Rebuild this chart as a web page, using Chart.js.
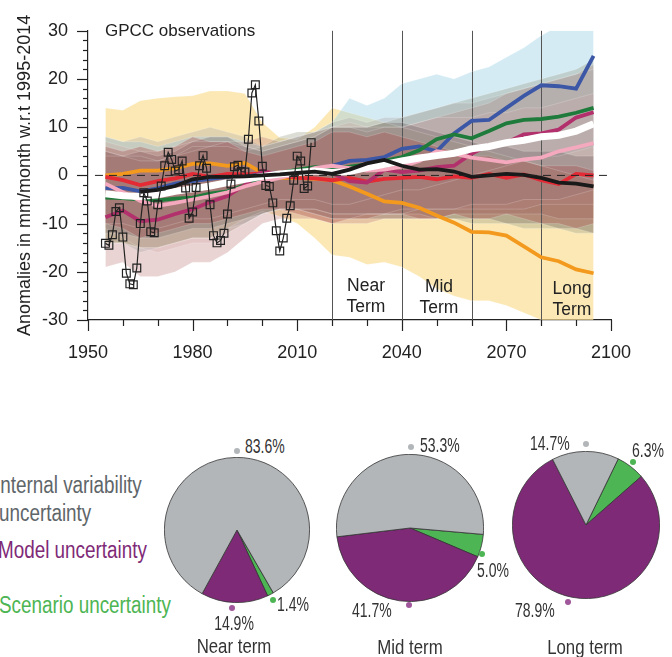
<!DOCTYPE html>
<html>
<head>
<meta charset="utf-8">
<script src="https://cdn.jsdelivr.net/npm/chart.js@4.4.1/dist/chart.umd.min.js"></script>
<style>
  body { margin: 0; background: #fff; }
  #page { position: relative; width: 672px; height: 657px; overflow: hidden; font-family: "Liberation Sans", Arial, sans-serif; color: #222; }
  #serie { position: absolute; left: 0; top: 0; }
  .pie { position: absolute; }
  .txt { position: absolute; white-space: nowrap; line-height: 1; }
  .narrow { transform: scaleX(0.82); transform-origin: left center; }
  .mid { transform-origin: center center; text-align: center; }
  .term { position: absolute; width: 80px; text-align: center; font-size: 17.5px; line-height: 20.5px; color: #222; }
  .pct { font-size: 20px; color: #333; transform: scaleX(0.7); }
  .name { font-size: 20.5px; color: #333; width: 120px; }
  .leg { font-size: 23px; }
  .dot { position: absolute; width: 6px; height: 6px; border-radius: 50%; }
</style>
</head>
<body>
<div id="page">
  <canvas id="serie" width="672" height="370"></canvas>

  <div class="txt" style="left:105px; top:22px; font-size:17px;">GPCC observations</div>
  <div class="term" style="left:326px; top:275px;">Near<br>Term</div>
  <div class="term" style="left:399px; top:276px;">Mid<br>Term</div>
  <div class="term" style="left:532px; top:278px;">Long<br>Term</div>

  <div class="txt narrow leg" style="left:-5px; top:474px; color:#5f666a;">Internal variability</div>
  <div class="txt narrow leg" style="left:-1px; top:502px; color:#5f666a;">uncertainty</div>
  <div class="txt narrow leg" style="left:-2px; top:539px; color:#7f2a77;">Model uncertainty</div>
  <div class="txt narrow leg" style="left:-1px; top:594px; color:#4db553;">Scenario uncertainty</div>

  <canvas class="pie" id="pieNear" width="146" height="146" style="left:164px; top:457px;"></canvas>
  <canvas class="pie" id="pieMid" width="148" height="148" style="left:336px; top:454px;"></canvas>
  <canvas class="pie" id="pieLong" width="148" height="148" style="left:512px; top:451px;"></canvas>

  <!-- Near term -->
  <span class="dot" style="left:234px; top:448px; background:#b2b6b8;"></span>
  <div class="txt narrow pct" style="left:245px; top:436px;">83.6%</div>
  <span class="dot" style="left:270px; top:597px; background:#4db553;"></span>
  <div class="txt narrow pct" style="left:277px; top:594px;">1.4%</div>
  <span class="dot" style="left:229px; top:605px; background:#a0569a;"></span>
  <div class="txt narrow pct mid" style="left:194px; top:613px; width:80px;">14.9%</div>
  <div class="txt narrow name mid" style="left:174px; top:636px;">Near term</div>

  <!-- Mid term -->
  <span class="dot" style="left:408px; top:444px; background:#b2b6b8;"></span>
  <div class="txt narrow pct" style="left:420px; top:435px;">53.3%</div>
  <span class="dot" style="left:479px; top:551px; background:#4db553;"></span>
  <div class="txt narrow pct" style="left:477px; top:560px;">5.0%</div>
  <span class="dot" style="left:406px; top:602px; background:#a0569a;"></span>
  <div class="txt narrow pct" style="left:352px; top:600px;">41.7%</div>
  <div class="txt narrow name mid" style="left:350px; top:637px;">Mid term</div>

  <!-- Long term -->
  <span class="dot" style="left:583px; top:441px; background:#b2b6b8;"></span>
  <div class="txt narrow pct" style="left:530px; top:433px;">14.7%</div>
  <span class="dot" style="left:630px; top:459px; background:#4db553;"></span>
  <div class="txt narrow pct" style="left:632px; top:440px;">6.3%</div>
  <span class="dot" style="left:565px; top:599px; background:#a0569a;"></span>
  <div class="txt narrow pct" style="left:515px; top:600px;">78.9%</div>
  <div class="txt narrow name mid" style="left:525px; top:637px;">Long term</div>
</div>

<script>
// Years of the model curves and bands (5-year steps)
const years = [1955,1960,1965,1970,1975,1980,1985,1990,1995,2000,2005,2010,2015,2020,2025,
  2030,2035,2040,2045,2050,2055,2060,2065,2070,2075,2080,2085,2090,2095];

// GPCC observations
const gpccYears = [];
for (let a = 1955; a <= 2014; a++) gpccYears.push(a);
const gpccValues = [-14.1,-14.5,-12.3,-7.5,-6.7,-12.8,-20.3,-22.5,-22.7,-19.2,
  -10.0,-3.6,-5.3,-11.7,-11.9,-6.1,-2.2,2.0,4.8,3.3,
  0.9,1.2,3.0,-2.6,-8.9,-7.6,-2.5,2.0,4.1,1.5,
  -6.1,-12.5,-14.0,-13.5,-12.0,-8.0,-1.8,1.8,2.1,0.8,
  0.7,7.5,17.1,18.8,11.3,1.9,-2.1,-2.3,-5.7,-11.5,
  -15.7,-13.0,-8.9,-6.3,-1.0,4.0,3.0,-2.7,-2.2,6.8];

// Model mean curves
const orangeLine = [0,0.3,1.0,1.0,1.5,2.4,2.5,2.0,2.6,0.5,-0.5,-0.5,-0.7,-1.0,-2.3,
  -3.8,-5.4,-5.7,-6.7,-8.3,-9.8,-11.7,-11.8,-12.5,-14.7,-17.0,-17.8,-19.5,-20.3];
const redLine = [-0.3,-1.0,-2.0,-1.2,-0.6,0.3,-0.3,0.3,0.2,0.4,0.0,-0.5,-0.6,-1.0,-0.5,
  -1.3,-0.7,-0.5,-0.3,-0.8,-0.2,-0.5,0.3,-0.5,0.2,-1.0,-1.8,0.3,0.0];
const blueLine = [-2.7,-2.6,-3.3,-2.7,-1.7,-1.2,-0.7,-0.3,-0.3,0.3,0.5,0.8,1.0,2.0,3.0,
  3.2,3.8,5.5,6.0,5.0,8.7,11.3,11.5,14.0,16.5,18.7,18.5,18.0,24.8];
const greenLine = [-4.6,-4.7,-5.0,-5.2,-4.8,-4.6,-3.8,-3.3,-2.0,-0.5,0.5,1.2,1.7,1.5,1.8,
  2.3,3.0,3.8,5.2,7.5,8.5,7.7,9.2,10.8,11.5,11.7,12.2,13.0,14.0];
const magentaLine = [-8.7,-7.3,-9.5,-9.2,-8.0,-7.0,-5.5,-4.3,-2.0,1.0,0.0,0.5,0.7,0.5,-1.2,
  -1.5,1.2,0.7,1.0,1.7,2.0,4.5,6.3,6.8,8.5,8.7,9.5,12.0,13.1];
const pinkLine = [-1.7,-3.5,-5.3,-6.3,-5.7,-5.0,-4.3,-3.5,-2.3,-1.3,-0.5,0.3,1.5,2.0,1.5,
  1.0,1.2,1.8,3.0,5.0,4.5,3.7,3.2,2.7,3.3,3.7,5.0,5.8,6.7];
const whiteLine = [-3.8,-4.2,-4.4,-4.0,-3.3,-2.8,-2.2,-1.5,-0.8,-0.2,0.3,0.6,0.9,0.6,0.8,
  1.6,2.3,3.0,3.6,4.1,4.6,5.5,6.0,6.8,7.3,8.0,8.3,9.2,10.7];
const blackLine = [null,null,-3.4,-3.0,-2.2,-0.8,-0.3,-0.3,-0.2,0.0,0.2,0.5,0.8,0.3,1.2,
  2.5,3.2,2.0,1.2,1.3,0.8,-0.3,0.0,0.3,0.1,-0.5,-1.5,-1.7,-2.3];

// Model ranges (upper / lower)
const yellowUp = [14,13.5,15.5,16,16.3,16.5,17.5,17.5,17.0,11,7.8,7.5,10,14,13,
  12,11,10,9,8,7,6,5,4,3,2,1,0,-1];
const yellowLow = [-14,-14,-15,-15,-14,-13,-13,-11,-9,-7.5,-8.5,-10,-13,-16.5,-17,
  -18.5,-18,-19,-21,-23.5,-25,-26,-26,-27,-28.5,-30,-31,-31,-31];
const blueUp = [8,7,7,6,7,8,8,8,7,6,7,8,9,11,16,14.5,16,19,20,21,20,21.5,22.5,24.5,26.5,29,31,31,31];
const blueLow = [-10,-10,-11,-11,-10,-9,-9,-8,-7,-6,-5,-5,-5,-6,-6,-5,-4,-3,-3,-2,-1,0,1,2,3,4,4,5,6];
const redUp = [6,5,6,5,6,8,7,7,5,4,5,6,7,9,9,8,9,8,7,6,5,4,4,3,3,2,2,2,1];
const redLow = [-10,-11,-13,-12,-11,-10,-10,-9,-8,-7,-7,-8,-9,-10,-9,-9,-8,-8,-9,-9,-8,-9,-9,-8,-9,-10,-10,-11,-10];
const greenUp = [5,4,4,3,4,6,6,6,5,6,8,9,9,10,10,10,11,12,13,14,15,16,17,18,19,20,21,22,24];
const greenLow = [-14,-14,-15,-15,-14,-13,-13,-12,-10,-8,-7,-7,-7,-8,-8,-8,-8,-8,-8,-9,-9,-10,-10,-10,-11,-11,-11,-12,-12];
const magentaUp = [4,4,3,3,4,5,6,7,7,8,7,8,9,10,10,9,10,10,11,12,13,14,15,17,18,19,20,21,23];
const magentaLow = [-19,-18,-21,-21,-20,-18,-18,-16,-13,-10,-9,-9,-9,-10,-10,-10,-9,-9,-9,-9,-8,-8,-8,-8,-8,-8,-9,-9,-9];
const pinkUp = [7,6,5,5,6,7,7,7,6,5,6,7,8,10,11,10,10,10,11,12,12,12,13,13,14,14,15,16,17];
const pinkLow = [-11,-13,-15,-16,-15,-14,-14,-12,-10,-8,-7,-7,-7,-8,-8,-8,-8,-7,-7,-7,-7,-7,-7,-7,-7,-6,-6,-6,-6];
const whiteUp = [8,7,8,7,8,9,10,9,8,6,7,8,9,11,12,11,12,12,13,14,15,15,16,17,18,19,20,21,22];
const whiteLow = [-14,-14,-16,-15,-14,-13,-13,-11,-10,-8,-7,-7,-8,-9,-9,-8,-8,-8,-7,-7,-7,-6,-6,-6,-5,-5,-5,-4,-3];
const blackUp = [5,4,5,4,5,7,8,8,6,5,6,7,8,10,10,10,11,11,10,9,8,7,6,6,5,5,5,4,4];
const blackLow = [-12,-12,-13,-13,-12,-11,-11,-10,-9,-8,-7,-7,-8,-9,-9,-9,-9,-9,-9,-9,-9,-9,-9,-10,-10,-10,-11,-11,-12];

// Axis ticks, reference line and period separators
const xLabels = [1950,1980,2010,2040,2070,2100];
const yLabels = [-30,-20,-10,0,10,20,30];
const zeroLine = [1952, 2100];
const termYears = [2020, 2040, 2060, 2080];

// Uncertainty shares (%)
const pieLabels = ["Scenario uncertainty", "Model uncertainty", "Internal variability uncertainty"];
const nearTerm = [1.4, 14.9, 83.6];
const midTerm = [5.0, 41.7, 53.3];
const longTerm = [6.3, 78.9, 14.7];

document.addEventListener("DOMContentLoaded", () => {
  Chart.defaults.font.family = '"Liberation Sans", Arial, sans-serif';
  Chart.defaults.color = "#222";

  const pts = (xs, vs) => xs.map((x, i) => ({ x: x, y: vs[i] }));

  function curve(vals, color, width) {
    return { data: pts(years, vals), borderColor: color, borderWidth: width, pointRadius: 0, fill: false };
  }
  function band(up, low, color) {
    return [
      { data: pts(years, up), fill: "+1", backgroundColor: color, borderColor: "rgba(255,255,255,0.3)", borderWidth: 0.6, pointRadius: 0 },
      { data: pts(years, low), fill: false, borderColor: "rgba(255,255,255,0.3)", borderWidth: 0.6, pointRadius: 0 }
    ];
  }

  // first dataset is drawn on top
  const datasets = [
    {
      data: pts(gpccYears, gpccValues), borderColor: "#222", borderWidth: 1.2,
      pointStyle: "rect", pointRadius: 5.5, pointBorderColor: "#222", pointBorderWidth: 1.2,
      pointBackgroundColor: "rgba(0,0,0,0)", fill: false
    },
    { data: zeroLine.map(a => ({ x: a, y: 0 })), borderColor: "#222", borderWidth: 1, borderDash: [8, 6], pointRadius: 0, fill: false },
    curve(blackLine, "#1a1a1a", 3.8),
    curve(whiteLine, "#ffffff", 7),
    curve(pinkLine, "#f4a9be", 3.8),
    curve(magentaLine, "#b2306c", 3.8),
    curve(greenLine, "#1e7b3b", 3.8),
    curve(blueLine, "#3c57a5", 3.8),
    curve(redLine, "#e42a35", 3.8),
    curve(orangeLine, "#f39a1e", 3.8),
    ...band(redUp, redLow, "rgba(170,75,75,0.34)"),
    ...band(blackUp, blackLow, "rgba(110,95,95,0.32)"),
    ...band(whiteUp, whiteLow, "rgba(170,165,165,0.32)"),
    ...band(pinkUp, pinkLow, "rgba(215,170,170,0.32)"),
    ...band(greenUp, greenLow, "rgba(145,150,125,0.32)"),
    ...band(magentaUp, magentaLow, "rgba(190,125,125,0.34)"),
    ...band(blueUp, blueLow, "rgba(160,210,230,0.45)"),
    ...band(yellowUp, yellowLow, "rgba(250,222,150,0.7)")
  ];

  // period separators, drawn after the fills
  const separadores = {
    id: "separadores",
    beforeDatasetsDraw(chart) {
      const { ctx, chartArea, scales: { x } } = chart;
      ctx.save();
      ctx.strokeStyle = "#555";
      ctx.lineWidth = 1;
      termYears.forEach(a => {
        const px = Math.round(x.getPixelForValue(a)) + 0.5;
        ctx.beginPath();
        ctx.moveTo(px, chartArea.top);
        ctx.lineTo(px, chartArea.bottom);
        ctx.stroke();
      });
      ctx.restore();
    }
  };

  // outward tick marks, long on labelled values
  const marcas = {
    id: "marcas",
    afterDraw(chart) {
      const { ctx, chartArea, scales: { x, y } } = chart;
      ctx.save();
      ctx.strokeStyle = "#222";
      ctx.lineWidth = 1.2;
      for (let v = y.min; v <= y.max; v += 2) {
        const py = Math.round(y.getPixelForValue(v)) + 0.5;
        const len = yLabels.includes(v) ? 11 : 5;
        ctx.beginPath();
        ctx.moveTo(chartArea.left, py);
        ctx.lineTo(chartArea.left - len, py);
        ctx.stroke();
      }
      for (let a = x.min; a <= x.max; a += 10) {
        const px = Math.round(x.getPixelForValue(a)) + 0.5;
        const len = xLabels.includes(a) ? 11 : 6;
        ctx.beginPath();
        ctx.moveTo(px, chartArea.bottom);
        ctx.lineTo(px, chartArea.bottom + len);
        ctx.stroke();
      }
      ctx.restore();
    }
  };

  new Chart(document.getElementById("serie"), {
    type: "line",
    data: { datasets: datasets },
    options: {
      responsive: false,
      animation: false,
      layout: { padding: { top: 20, right: 61, left: 0, bottom: 0 } },
      elements: { line: { tension: 0 } },
      plugins: {
        legend: { display: false },
        tooltip: { enabled: false },
        filler: { drawTime: "beforeDatasetsDraw" }
      },
      scales: {
        x: {
          type: "linear", min: 1950, max: 2100,
          grid: { display: false, drawTicks: false },
          border: { display: true, color: "#222", width: 1.2 },
          ticks: { stepSize: 30, padding: 22, maxRotation: 0, font: { size: 18 }, color: "#222",
            callback: v => String(v) },
          afterFit: s => { s.height = 50; }
        },
        y: {
          min: -30, max: 30,
          grid: { display: false, drawTicks: false },
          border: { display: true, color: "#222", width: 1.2 },
          ticks: { stepSize: 10, padding: 20, font: { size: 18 }, color: "#222" },
          title: { display: true, text: "Anomalies in mm/month w.r.t 1995-2014", font: { size: 18 }, color: "#222", padding: { top: 14, bottom: 0 } },
          afterFit: s => { s.width = 88; }
        }
      }
    },
    plugins: [separadores, marcas]
  });

  // Pie charts
  const pieColors = ["#4db553", "#7f2a77", "#b2b6b8"];
  function pastel(id, values, rotation) {
    new Chart(document.getElementById(id), {
      type: "pie",
      data: {
        labels: pieLabels,
        datasets: [{ data: values, backgroundColor: pieColors, borderColor: "#333", borderWidth: 0.8 }]
      },
      options: {
        responsive: false,
        animation: false,
        rotation: rotation,
        plugins: { legend: { display: false }, tooltip: { enabled: false } }
      }
    });
  }
  pastel("pieNear", nearTerm, 150);
  pastel("pieMid", midTerm, 95);
  pastel("pieLong", longTerm, 26);
});
</script>
</body>
</html>
